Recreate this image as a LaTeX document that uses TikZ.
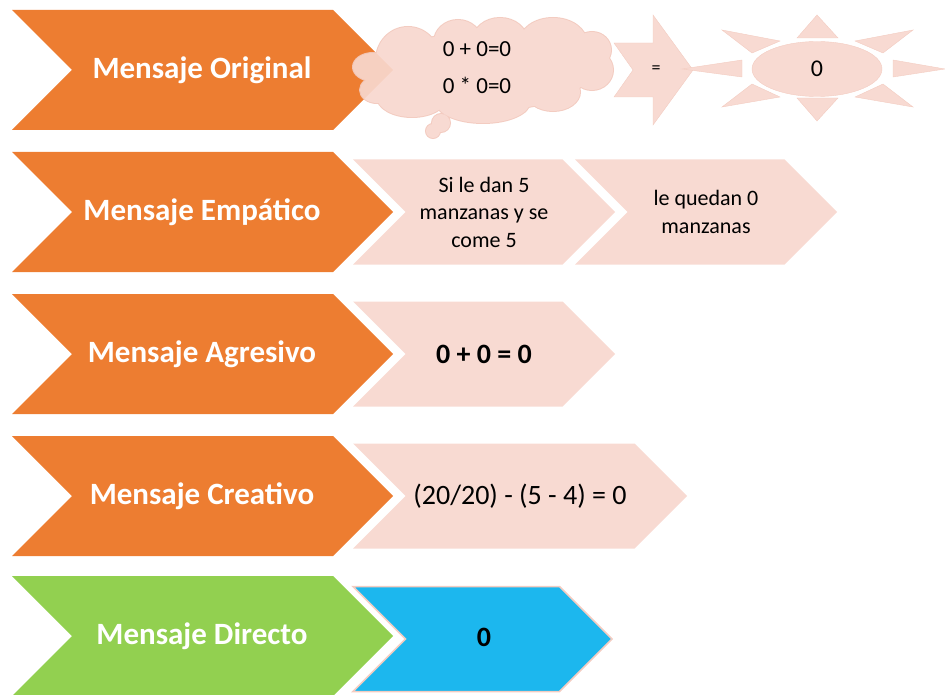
\documentclass[tikz,border=0pt]{standalone}
\usepackage{fontspec}
\setmainfont{Carlito}

\definecolor{naranja}{HTML}{ED7D31}
\definecolor{verde}{HTML}{92D050}
\definecolor{azul}{HTML}{1CB7EE}
\definecolor{rosa}{HTML}{F8DAD2}
\definecolor{rosaborde}{HTML}{F3CCC1}

% chevron: style, left x, middle y, width, half height
\newcommand{\chevron}[5]{%
  \fill[#1] (#2,#3-#5) -- (#2+#4-#5,#3-#5) -- (#2+#4,#3) -- (#2+#4-#5,#3+#5)
    -- (#2,#3+#5) -- (#2+#5,#3) -- cycle;}

% puffs of the cloud
\newcommand{\nube}{(490,70) ellipse (100 and 40)
  (408,60) ellipse (32 and 33) (458,42) ellipse (24 and 22)
  (500,40) ellipse (27 and 22) (553,43) ellipse (34 and 25)
  (592,50) ellipse (19 and 18) (592,70) ellipse (21 and 20)
  (553,92) ellipse (27 and 19) (483,102) ellipse (47 and 21)
  (412,97) ellipse (35 and 20) (373,67) ellipse (20 and 14)
  (377,90) ellipse (17 and 13)
  (441,123) circle (9) (433,131) circle (7)}

\tikzset{
  titulo/.style={text=white, font=\fontsize{31}{36}\selectfont\bfseries},
  texto/.style={text=black, align=center, font=\fontsize{22}{27.5}\selectfont},
  resultado/.style={text=black, font=\fontsize{28}{32}\selectfont\bfseries},
  rayo/.style={fill=rosa, draw=rosaborde}
}

\begin{document}
\begin{tikzpicture}[x=1pt,y=-1pt]
\useasboundingbox (0,0) rectangle (945,695);

% left column
\chevron{naranja}{12}{70}{381}{60}
\chevron{naranja}{12}{212}{381}{60}
\chevron{naranja}{12}{354}{381}{60}
\chevron{naranja}{12}{496}{381}{60}
\chevron{verde}{12}{636}{381}{60}

% row 1: cloud, arrow and sun
\draw[rosaborde, line width=2pt] \nube;
\fill[rosa] \nube;
\chevron{naranja, fill opacity=0.1}{12}{70}{381}{60}
\node[texto, font=\fontsize{23}{37}\selectfont] (suma) at (477,68) {0 + 0=0\\0 * 0=0};

\node[titulo] (original) at (202,70) {Mensaje Original};
\node[titulo] (empatico) at (202,212) {Mensaje Empático};
\node[titulo] (agresivo) at (202,354) {Mensaje Agresivo};
\node[titulo] (creativo) at (202,496) {Mensaje Creativo};
\node[titulo] (directo) at (202,636) {Mensaje Directo};

\fill[rosa, draw=rosaborde] (614,43) -- (653,43) -- (653,15) -- (693,70) -- (653,125)
  -- (653,97) -- (614,97) -- (633,70) -- cycle;
\node[texto, font=\fontsize{18}{20}\selectfont] (igual) at (656,70) {=};

\fill[rayo] (797,38) -- (838,38) -- (817,15) -- cycle;
\fill[rayo] (797,98) -- (838,98) -- (817,121) -- cycle;
\fill[rayo] (742,60) -- (742,77) -- (682,69) -- cycle;
\fill[rayo] (893,60) -- (893,77) -- (945,69) -- cycle;
\fill[rayo] (722,30) -- (780,41) -- (752,53) -- cycle;
\fill[rayo] (913,30) -- (855,41) -- (883,53) -- cycle;
\fill[rayo] (722,107) -- (780,97) -- (752,84) -- cycle;
\fill[rayo] (913,107) -- (855,97) -- (883,84) -- cycle;
\fill[rayo] (817,69) ellipse (65 and 27.5);
\node[texto, font=\fontsize{24}{28}\selectfont] (cero) at (817,69) {0};

% row 2
\chevron{rosa}{353}{212}{262}{52.5}
\chevron{rosa}{575}{212}{262}{52.5}
\node[texto] (manzanas) at (484,212) {Si le dan 5\\manzanas y se\\come 5};
\node[texto] (quedan) at (706,212) {le quedan 0\\manzanas};

% row 3
\chevron{rosa}{353}{354}{262}{52.5}
\node[resultado] (agresivotxt) at (484,354) {0 + 0 = 0};

% row 4
\chevron{rosa}{353}{496}{334}{52.5}
\node[texto, font=\fontsize{28}{32}\selectfont] (creativotxt) at (520,496) {(20/20) - (5 - 4) = 0};

% row 5
\chevron{azul, draw=rosaborde, line width=1.5pt}{353}{639}{259}{52.5}
\node[resultado] (directotxt) at (484,637) {0};
\end{tikzpicture}
\end{document}
